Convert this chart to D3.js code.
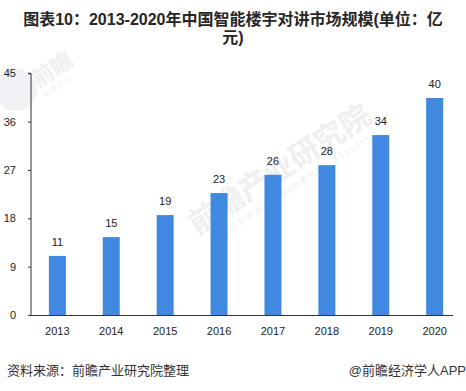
<!DOCTYPE html>
<html><head><meta charset="utf-8">
<script src="https://cdn.jsdelivr.net/npm/d3@7"></script>
<style>
html,body{margin:0;padding:0;background:#fff;}
svg{display:block;}
</style></head>
<body>
<svg id="chart" width="466" height="391"></svg>
<script>
const years = ["2013","2014","2015","2016","2017","2018","2019","2020"];
const values = [11.0, 14.5, 18.6, 22.7, 26.1, 27.9, 33.5, 40.4];
const labels = ["11","15","19","23","26","28","34","40"];
const yTicks = [0, 9, 18, 27, 36, 45];
const titleLines = ["图表10：2013-2020年中国智能楼宇对讲市场规模(单位：亿", "元)"];
const sourceText = "资料来源：前瞻产业研究院整理";
const brandText = "@前瞻经济学人APP";

const svg = d3.select("#chart");
const cjk = "'Liberation Sans','Noto Sans CJK SC',sans-serif";

const x = d3.scaleBand().domain(years).range([30.4, 461.6]).paddingInner(0.685).paddingOuter(0.3425);
const y = d3.scaleLinear().domain([0, 45]).range([315, 73.3]);

// watermark
const wm = svg.append("g").attr("transform", "translate(285,178) rotate(-33)").attr("fill", "#efefef");
wm.append("text").attr("text-anchor","middle").attr("font-family",cjk).attr("font-weight","bold")
  .attr("font-size", 30).text("前瞻产业研究院");
wm.append("text").attr("text-anchor","middle").attr("y",15).attr("font-family",cjk)
  .attr("font-size", 8).attr("letter-spacing", 2).text("中国产业咨询领导者(股票代码：839599)");
const wm2 = svg.append("g").attr("transform", "translate(38,88) rotate(-33)").attr("fill", "#efefef");
wm2.append("text").attr("font-family",cjk).attr("font-weight","bold")
  .attr("font-size", 22).text("前瞻");
wm2.append("text").attr("y", 12).attr("font-family",cjk)
  .attr("font-size", 7).attr("letter-spacing", 2).text("中国产业");
svg.append("circle").attr("cx", 16).attr("cy", 90).attr("r", 21).attr("fill", "#f1f2f5");

// title
svg.append("g").selectAll("text").data(titleLines).join("text")
  .attr("x", 233).attr("y", (d,i) => 25 + i*18)
  .attr("text-anchor","middle").attr("font-family",cjk).attr("font-weight","bold")
  .attr("font-size", 16).attr("fill","#262626").text(d => d);

// bars
svg.append("g").selectAll("rect").data(values).join("rect")
  .attr("x", (d,i) => x(years[i])).attr("width", x.bandwidth())
  .attr("y", d => y(d)).attr("height", d => y(0) - y(d))
  .attr("fill", "#4189E0");

// value labels
svg.append("g").selectAll("text").data(values).join("text")
  .attr("x", (d,i) => x(years[i]) + x.bandwidth()/2).attr("y", d => y(d) - 10)
  .attr("text-anchor","middle").attr("font-family","'Liberation Sans',sans-serif")
  .attr("font-size", 11).attr("fill","#222").text((d,i) => labels[i]);

// y axis
const yAxis = svg.append("g").attr("transform","translate(31,0)")
  .call(d3.axisLeft(y).tickValues(yTicks).tickSize(3).tickPadding(12));
yAxis.select(".domain").attr("stroke","#333").attr("d","M-3,73.3H0V315");
yAxis.selectAll(".tick line").attr("stroke","#333");
yAxis.selectAll(".tick text").attr("font-family","'Liberation Sans',sans-serif").attr("font-size",11).attr("fill","#222");

// x axis
const xAxis = svg.append("g").attr("transform","translate(0,315)")
  .call(d3.axisBottom(x).tickSize(0).tickPadding(12));
xAxis.select(".domain").attr("stroke","#333").attr("d","M31,0.5H453");
xAxis.selectAll(".tick text").attr("font-family","'Liberation Sans',sans-serif").attr("font-size",11).attr("fill","#222");

// footer
svg.append("text").attr("x", 7).attr("y", 375).attr("font-family",cjk)
  .attr("font-size", 13).attr("fill","#333").text(sourceText);
svg.append("text").attr("x", 466).attr("y", 375).attr("text-anchor","end").attr("font-family",cjk)
  .attr("font-size", 13).attr("fill","#333").text(brandText);
</script>
</body></html>
